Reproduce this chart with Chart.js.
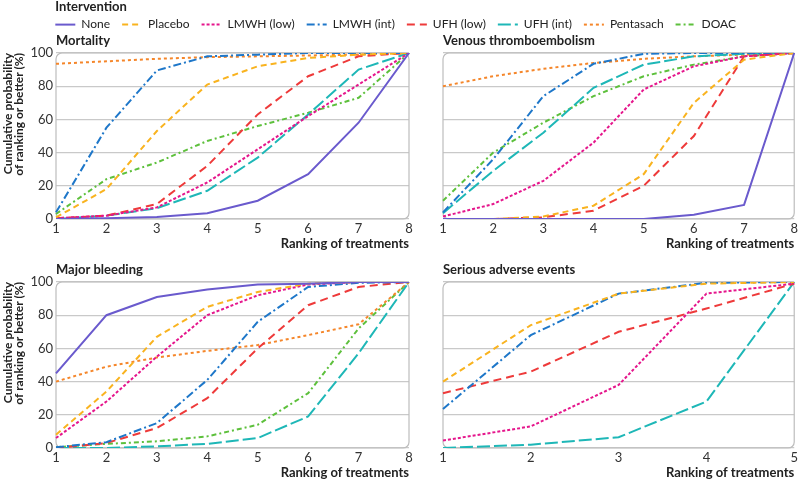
<!DOCTYPE html>
<html>
<head>
<meta charset="utf-8">
<script src="https://cdn.jsdelivr.net/npm/chart.js@4.4.1/dist/chart.umd.min.js"></script>
<style>
  body { margin: 0; background: #fff; width: 800px; height: 482px; position: relative; overflow: hidden; }
  .box { position: absolute; }
</style>
</head>
<body>
<div class="box" style="left:0;top:30px;width:420px;height:222px"><canvas id="mortChart"></canvas></div>
<div class="box" style="left:420px;top:30px;width:380px;height:222px"><canvas id="vteChart"></canvas></div>
<div class="box" style="left:0;top:252px;width:420px;height:230px"><canvas id="bleedChart"></canvas></div>
<div class="box" style="left:420px;top:252px;width:380px;height:230px"><canvas id="saeChart"></canvas></div>
<div class="box" id="legendBox" style="left:0;top:0;width:720px;height:80px;pointer-events:none"><canvas id="legendChart"></canvas></div>
<script>
// ranks on the x axis
const ranks8 = ["1", "2", "3", "4", "5", "6", "7", "8"];
const ranks5 = ["1", "2", "3", "4", "5"];

// Mortality (cumulative %)
const mortNone     = [0, 0.5, 1.2, 3.5, 11, 27, 58, 100];
const mortPlacebo  = [1, 18, 53, 81, 92, 97, 99, 100];
const mortLmwhLow  = [0.5, 2, 7, 22, 42, 62, 81, 100];
const mortLmwhInt  = [4, 55, 89.5, 98, 99, 100, 100, 100];
const mortUfhLow   = [0.5, 2, 9, 32, 63, 86, 98, 100];
const mortUfhInt   = [0, 2, 6.5, 17, 37, 63, 90, 100];
const mortPenta    = [93.5, 95, 96.5, 97.5, 98, 98.5, 99, 100];
const mortDoac     = [3, 24, 34, 47, 56, 64, 73, 100];

// Venous thromboembolism
const vteNone      = [0, 0, 0, 0, 0, 2.5, 8.5, 100];
const vtePlacebo   = [0, 0, 1.5, 8, 27, 70, 96, 100];
const vteLmwhLow   = [1.5, 9, 23, 46, 78, 92, 98, 100];
const vteLmwhInt   = [4, 36, 74, 93.5, 99.5, 100, 100, 100];
const vteUfhLow    = [0, 0, 1, 5, 20, 50, 98, 100];
const vteUfhInt    = [3.5, 29, 52, 79, 93, 98, 99.5, 100];
const vtePenta     = [80, 86, 90.5, 94, 96.5, 98, 99, 100];
const vteDoac      = [11, 40, 58, 74, 86, 93, 98, 100];

// Major bleeding
const bleedNone    = [45, 80, 91, 95.5, 98.5, 99, 100, 100];
const bleedPlacebo = [8, 34, 67, 85, 94, 99, 100, 100];
const bleedLmwhLow = [6, 28, 55, 80, 92, 98.5, 100, 100];
const bleedLmwhInt = [0.5, 3.5, 15, 41, 76, 97, 99.5, 100];
const bleedUfhLow  = [0, 3, 12, 30, 60, 86, 97, 100];
const bleedUfhInt  = [0, 0, 1, 2.5, 6, 19, 57, 100];
const bleedPenta   = [40, 49, 54.5, 58.5, 62, 68, 74.5, 100];
const bleedDoac    = [0.5, 2.5, 4, 7, 14, 33, 72, 100];

// Serious adverse events (5 treatments)
const saePlacebo   = [40, 74, 93, 99, 100];
const saeLmwhLow   = [4.5, 13, 38, 93, 99];
const saeLmwhInt   = [23.5, 68, 93, 99.5, 100];
const saeUfhLow    = [33, 46, 70, 84, 99];
const saeUfhInt    = [0, 2, 6.5, 28, 100];

const yTicks = [0, 20, 40, 60, 80, 100];

const FONT = "Lato";
const styles = {
  "None":       { color: "#6a5acd", dash: [] },
  "Placebo":    { color: "#f9b31f", dash: [6, 4] },
  "LMWH (low)": { color: "#e5168c", dash: [3, 2] },
  "LMWH (int)": { color: "#1e77c9", dash: [8, 3, 2, 3] },
  "UFH (low)":  { color: "#ee3a3a", dash: [8, 5] },
  "UFH (int)":  { color: "#1eb7b7", dash: [13, 4] },
  "Pentasach":  { color: "#f5862a", dash: [3, 3] },
  "DOAC":       { color: "#5dc03c", dash: [5, 3, 2, 3] }
};

function ds(name, data) {
  return {
    label: name, data: data,
    borderColor: styles[name].color, backgroundColor: styles[name].color,
    borderDash: styles[name].dash, borderWidth: 2,
    pointRadius: 0, tension: 0, fill: false
  };
}

// rounded box round the plot area
const areaBorder = {
  id: "areaBorder",
  beforeDatasetsDraw(chart) {
    const { ctx, chartArea: a } = chart;
    ctx.save();
    ctx.strokeStyle = "#bdbdbd";
    ctx.lineWidth = 1.2;
    ctx.beginPath();
    ctx.roundRect(a.left, a.top, a.width, a.height, 6);
    ctx.stroke();
    ctx.restore();
  }
};

// panel heading, left aligned on the plot area
const panelTitle = {
  id: "panelTitle",
  afterDraw(chart, args, opts) {
    if (!opts.text) return;
    const { ctx, chartArea } = chart;
    ctx.save();
    ctx.font = "bold 13px " + FONT;
    ctx.fillStyle = "#222";
    ctx.textBaseline = "middle";
    ctx.fillText(opts.text, chartArea.left, chartArea.top - 12);
    ctx.restore();
  }
};

function makePanel(id, title, labels, datasets, o) {
  return new Chart(document.getElementById(id), {
    type: "line",
    data: { labels: labels, datasets: datasets },
    plugins: [areaBorder, panelTitle],
    options: {
      responsive: true, maintainAspectRatio: false, animation: false,
      layout: { padding: { top: o.top, right: o.right, left: 0, bottom: 0 } },
      plugins: { legend: { display: false }, tooltip: { enabled: false }, panelTitle: { text: title } },
      scales: {
        x: {
          type: "category", offset: false,
          grid: { display: false, drawTicks: false }, border: { display: false },
          ticks: { color: "#333", font: { family: FONT, size: 13 }, padding: 2, maxRotation: 0, autoSkip: false },
          title: { display: true, text: "Ranking of treatments", align: "end", color: "#222",
                   font: { family: FONT, size: 13, weight: "bold" }, padding: { top: 0, bottom: o.xTitlePad } },
          afterFit: s => { s.height = o.xHeight; }
        },
        y: {
          min: 0, max: 100,
          afterBuildTicks: s => { s.ticks = yTicks.map(v => ({ value: v })); },
          grid: { color: "#c9c9c9", lineWidth: 1.2, drawTicks: false },
          border: { display: false },
          ticks: { display: o.showY, color: "#333", font: { family: FONT, size: 13 }, padding: 3 },
          title: { display: o.showY, text: ["Cumulative probability", "of ranking or better (%)"], align: "end",
                   color: "#222", font: { family: FONT, size: 12, weight: "bold", lineHeight: 0.95 }, padding: { top: 2.5 } },
          afterFit: s => { s.width = o.yWidth; }
        }
      }
    }
  });
}

const leftTop = { top: 23, right: 11, xHeight: 33, xTitlePad: 0, showY: true, yWidth: 56 };
const rightTop = { top: 23, right: 0, xHeight: 33, xTitlePad: 0, showY: false, yWidth: 23 };
const leftBottom = { top: 30, right: 11, xHeight: 34, xTitlePad: 1, showY: true, yWidth: 56 };
const rightBottom = { top: 30, right: 0, xHeight: 34, xTitlePad: 1, showY: false, yWidth: 23 };

makePanel("mortChart", "Mortality", ranks8, [
  ds("None", mortNone), ds("Placebo", mortPlacebo), ds("LMWH (low)", mortLmwhLow), ds("LMWH (int)", mortLmwhInt),
  ds("UFH (low)", mortUfhLow), ds("UFH (int)", mortUfhInt), ds("Pentasach", mortPenta), ds("DOAC", mortDoac)
], leftTop);

makePanel("vteChart", "Venous thromboembolism", ranks8, [
  ds("None", vteNone), ds("Placebo", vtePlacebo), ds("LMWH (low)", vteLmwhLow), ds("LMWH (int)", vteLmwhInt),
  ds("UFH (low)", vteUfhLow), ds("UFH (int)", vteUfhInt), ds("Pentasach", vtePenta), ds("DOAC", vteDoac)
], rightTop);

makePanel("bleedChart", "Major bleeding", ranks8, [
  ds("None", bleedNone), ds("Placebo", bleedPlacebo), ds("LMWH (low)", bleedLmwhLow), ds("LMWH (int)", bleedLmwhInt),
  ds("UFH (low)", bleedUfhLow), ds("UFH (int)", bleedUfhInt), ds("Pentasach", bleedPenta), ds("DOAC", bleedDoac)
], leftBottom);

makePanel("saeChart", "Serious adverse events", ranks5, [
  ds("Placebo", saePlacebo), ds("LMWH (low)", saeLmwhLow), ds("LMWH (int)", saeLmwhInt),
  ds("UFH (low)", saeUfhLow), ds("UFH (int)", saeUfhInt)
], rightBottom);

// shared legend on its own canvas; align "end" puts the title and the first item on the same x,
// so the box is sized to the row width to start both at the plot's left edge
const legendFontSize = 12, legendPad = 12, legendLine = 20, legendLeft = 55;
const mctx = document.createElement("canvas").getContext("2d");
mctx.font = legendFontSize + "px " + FONT;
const rowWidth = Object.keys(styles).reduce((w, n) =>
  w + legendLine + legendFontSize / 2 + mctx.measureText(n).width + legendPad, 0);
document.getElementById("legendBox").style.width = Math.round(legendLeft + rowWidth) + "px";

new Chart(document.getElementById("legendChart"), {
  type: "line",
  data: { labels: [], datasets: Object.keys(styles).map(n => ds(n, [])) },
  options: {
    responsive: true, maintainAspectRatio: false, animation: false, events: [],
    layout: { padding: 0 },
    scales: { x: { display: false }, y: { display: false } },
    plugins: {
      tooltip: { enabled: false },
      legend: {
        position: "top", align: "end",
        title: { display: true, text: "Intervention", position: "start", color: "#222",
                 font: { family: FONT, size: 13, weight: "bold" }, padding: { top: 0, bottom: -9 } },
        labels: {
          usePointStyle: true, pointStyleWidth: legendLine, boxHeight: 12, padding: legendPad,
          color: "#333", font: { family: FONT, size: legendFontSize },
          generateLabels: chart => chart.data.datasets.map((d, i) => ({
            text: d.label, strokeStyle: d.borderColor, fillStyle: d.borderColor,
            lineWidth: d.borderWidth, lineDash: d.borderDash, pointStyle: "line",
            datasetIndex: i, hidden: false
          }))
        }
      }
    }
  }
});
</script>
</body>
</html>
